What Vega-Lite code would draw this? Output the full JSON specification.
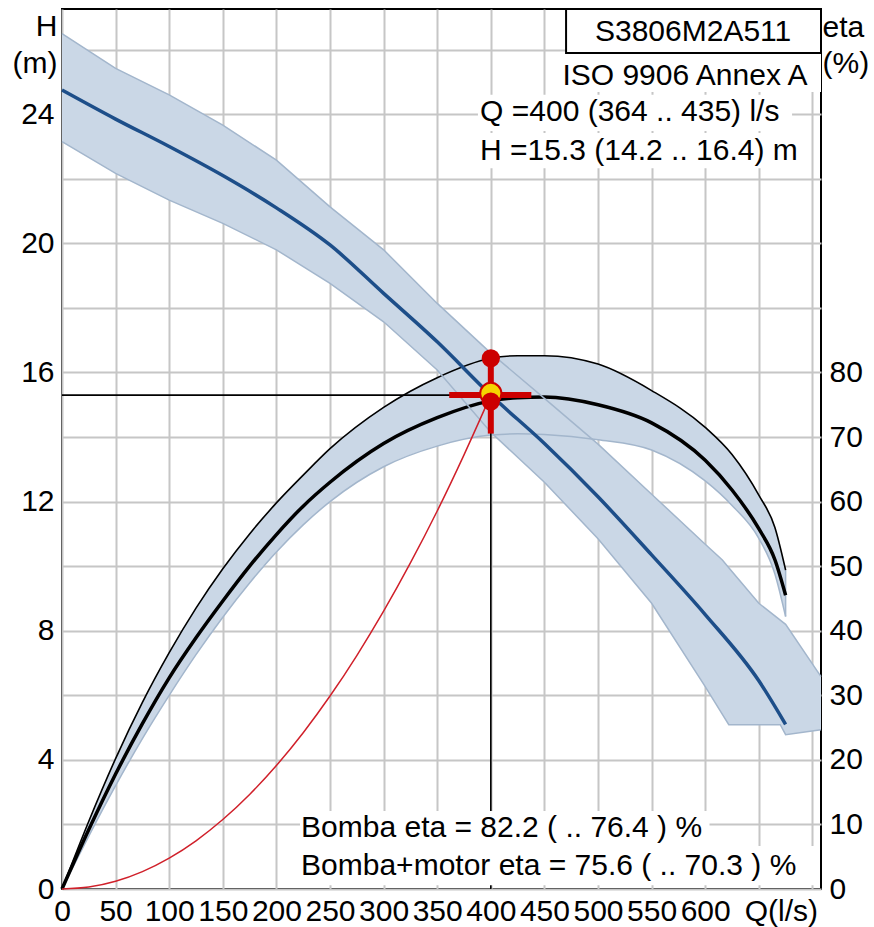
{
  "$schema": "https://vega.github.io/schema/vega-lite/v6.json",
  "width": 759,
  "height": 880,
  "autosize": {"type": "none"},
  "padding": {"left": 62, "top": 9, "right": 53, "bottom": 38},
  "background": "white",
  "config": {
    "view": {"stroke": "#000000", "strokeWidth": 2},
    "font": "Liberation Sans",
    "axis": {
      "labelFont": "Liberation Sans", "labelFontSize": 30, "labelColor": "#000000",
      "titleFont": "Liberation Sans", "titleFontSize": 30, "titleFontWeight": "normal", "titleColor": "#000000",
      "domain": false, "ticks": false, "tickSize": 0,
      "gridColor": "#c6c6c6", "gridWidth": 2, "gridOpacity": 1
    }
  },
  "datasets": {
    "hband": [
      {"Q": 0, "lo": 23.15, "hi": 26.5},
      {"Q": 50, "lo": 22.17, "hi": 25.42},
      {"Q": 100, "lo": 21.34, "hi": 24.6},
      {"Q": 150, "lo": 20.62, "hi": 23.66},
      {"Q": 200, "lo": 19.8, "hi": 22.58},
      {"Q": 250, "lo": 18.76, "hi": 21.13},
      {"Q": 300, "lo": 17.57, "hi": 19.8},
      {"Q": 350, "lo": 16.08, "hi": 18.14},
      {"Q": 400, "lo": 14.15, "hi": 16.6},
      {"Q": 450, "lo": 12.6, "hi": 15.2},
      {"Q": 500, "lo": 10.85, "hi": 13.78},
      {"Q": 550, "lo": 8.85, "hi": 12.23},
      {"Q": 600, "lo": 6.27, "hi": 10.68},
      {"Q": 616, "lo": 5.41, "hi": 10.19},
      {"Q": 622, "lo": 5.09, "hi": 9.95},
      {"Q": 650, "lo": 5.09, "hi": 8.85},
      {"Q": 670, "lo": 5.09, "hi": 8.33},
      {"Q": 675, "lo": 4.78, "hi": 8.2},
      {"Q": 708, "lo": 4.93, "hi": 6.58}
    ],
    "hline": [
      {"Q": 0, "H": 24.75}, {"Q": 50, "H": 23.85}, {"Q": 100, "H": 23.0},
      {"Q": 150, "H": 22.1}, {"Q": 200, "H": 21.1}, {"Q": 250, "H": 19.95},
      {"Q": 300, "H": 18.45}, {"Q": 350, "H": 16.95}, {"Q": 400, "H": 15.3},
      {"Q": 450, "H": 13.8}, {"Q": 500, "H": 12.15}, {"Q": 550, "H": 10.35},
      {"Q": 600, "H": 8.5}, {"Q": 650, "H": 6.45}, {"Q": 675, "H": 5.1}
    ],
    "eband": [
      {"Q": 0, "pump": 0, "pm": 0, "lo": 0},
      {"Q": 25, "pump": 10.5, "pm": 9.2, "lo": 8.2},
      {"Q": 50, "pump": 20.2, "pm": 17.8, "lo": 16.0},
      {"Q": 75, "pump": 28.9, "pm": 25.6, "lo": 23.3},
      {"Q": 100, "pump": 36.6, "pm": 32.7, "lo": 30.0},
      {"Q": 125, "pump": 43.5, "pm": 38.9, "lo": 36.3},
      {"Q": 150, "pump": 49.6, "pm": 44.6, "lo": 42.1},
      {"Q": 175, "pump": 55.0, "pm": 50.0, "lo": 47.4},
      {"Q": 200, "pump": 59.8, "pm": 54.9, "lo": 52.2},
      {"Q": 225, "pump": 64.1, "pm": 59.3, "lo": 56.4},
      {"Q": 250, "pump": 68.2, "pm": 63.0, "lo": 60.0},
      {"Q": 300, "pump": 74.6, "pm": 69.0, "lo": 65.4},
      {"Q": 350, "pump": 79.2, "pm": 73.0, "lo": 68.6},
      {"Q": 400, "pump": 82.2, "pm": 75.6, "lo": 70.3},
      {"Q": 425, "pump": 82.6, "pm": 76.1, "lo": 70.5},
      {"Q": 450, "pump": 82.6, "pm": 76.2, "lo": 70.4},
      {"Q": 500, "pump": 81.3, "pm": 75.0, "lo": 69.6},
      {"Q": 550, "pump": 77.2, "pm": 72.2, "lo": 68.0},
      {"Q": 600, "pump": 71.5, "pm": 66.4, "lo": 63.2},
      {"Q": 625, "pump": 67.3, "pm": 61.8, "lo": 59.4},
      {"Q": 650, "pump": 61.0, "pm": 55.8, "lo": 54.3},
      {"Q": 665, "pump": 56.0, "pm": 51.0, "lo": 48.8},
      {"Q": 675, "pump": 49.4, "pm": 45.5, "lo": 42.2}
    ],
    "sys": [
      {"Q": 0, "H": 0}, {"Q": 25, "H": 0.06}, {"Q": 50, "H": 0.239}, {"Q": 75, "H": 0.538},
      {"Q": 100, "H": 0.956}, {"Q": 125, "H": 1.494}, {"Q": 150, "H": 2.152}, {"Q": 175, "H": 2.928},
      {"Q": 200, "H": 3.825}, {"Q": 225, "H": 4.841}, {"Q": 250, "H": 5.977}, {"Q": 275, "H": 7.232},
      {"Q": 300, "H": 8.606}, {"Q": 325, "H": 10.1}, {"Q": 350, "H": 11.71}, {"Q": 375, "H": 13.45},
      {"Q": 400, "H": 15.3}
    ]
  },
  "encoding": {
    "x": {
      "field": "Q", "type": "quantitative",
      "scale": {"domain": [0, 708], "nice": false, "zero": false},
      "axis": {
        "values": [0, 50, 100, 150, 200, 250, 300, 350, 400, 450, 500, 550, 600, 650, 700],
        "grid": true, "title": null, "labelPadding": 7,
        "labelOverlap": false, "labelFlush": false, "labelBound": false,
        "labelExpr": "datum.value == 650 ? 'Q(l/s)' : (datum.value == 700 ? '' : datum.label)",
        "labelOffset": {"condition": {"test": "datum.value == 650", "value": 22}, "value": 0}
      }
    }
  },
  "resolve": {"scale": {"y": "independent"}},
  "layer": [
    {
      "data": {"name": "hband"},
      "mark": {"type": "area", "color": "#cad7e6", "opacity": 1},
      "encoding": {
        "y": {
          "field": "lo", "type": "quantitative",
          "scale": {"domain": [0, 27.26], "nice": false, "zero": false},
          "axis": {
            "orient": "left",
            "values": [0, 2, 4, 6, 8, 10, 12, 14, 16, 18, 20, 22, 24, 26],
            "grid": true, "labelPadding": 8,
            "labelExpr": "datum.value % 4 == 0 ? datum.label : ''",
            "title": ["H", "(m)"], "titleAngle": 0, "titleAlign": "right", "titleBaseline": "alphabetic",
            "titleX": -5, "titleY": 26, "titleLineHeight": 37
          }
        },
        "y2": {"field": "hi"}
      }
    },
    {
      "data": {"name": "eband"},
      "mark": {"type": "area", "color": "#cad7e6", "opacity": 1, "interpolate": "monotone"},
      "encoding": {
        "y": {
          "field": "lo", "type": "quantitative",
          "scale": {"domain": [0, 136.3], "nice": false, "zero": false},
          "axis": {
            "orient": "right",
            "values": [0, 10, 20, 30, 40, 50, 60, 70, 80],
            "grid": false, "labelPadding": 8,
            "title": ["eta", "(%)"], "titleAngle": 0, "titleAlign": "left", "titleBaseline": "alphabetic",
            "titleX": 1, "titleY": 27, "titleLineHeight": 36
          }
        },
        "y2": {"field": "pump"}
      }
    },
    {
      "layer": [
        {
          "data": {"name": "eband"},
          "mark": {"type": "line", "color": "#a3b6cc", "strokeWidth": 1.5, "interpolate": "monotone"},
          "encoding": {"y": {"field": "lo", "type": "quantitative", "scale": {"domain": [0, 136.3], "nice": false, "zero": false}, "axis": null}}
        },
        {
          "data": {"values": [{"Q": 675, "lo": 42.2, "hi": 49.4}]},
          "mark": {"type": "rule", "color": "#a3b6cc", "strokeWidth": 1.5},
          "encoding": {"y": {"field": "lo", "type": "quantitative", "scale": {"domain": [0, 136.3], "nice": false, "zero": false}, "axis": null}, "y2": {"field": "hi"}}
        },
        {
          "data": {"name": "eband"},
          "mark": {"type": "line", "color": "#000000", "strokeWidth": 3.5, "interpolate": "monotone"},
          "encoding": {"y": {"field": "pm", "type": "quantitative", "scale": {"domain": [0, 136.3], "nice": false, "zero": false}, "axis": null}}
        },
        {
          "data": {"name": "eband"},
          "mark": {"type": "line", "color": "#000000", "strokeWidth": 1.6, "interpolate": "monotone"},
          "encoding": {"y": {"field": "pump", "type": "quantitative", "scale": {"domain": [0, 136.3], "nice": false, "zero": false}, "axis": null}}
        }
      ]
    },
    {
      "layer": [
        {
          "data": {"name": "hband"},
          "mark": {"type": "line", "color": "#a3b6cc", "strokeWidth": 1.5},
          "encoding": {"y": {"field": "lo", "type": "quantitative", "scale": {"domain": [0, 27.26], "nice": false, "zero": false}, "axis": null}}
        },
        {
          "data": {"name": "hband"},
          "mark": {"type": "line", "color": "#a3b6cc", "strokeWidth": 1.5},
          "encoding": {"y": {"field": "hi", "type": "quantitative", "scale": {"domain": [0, 27.26], "nice": false, "zero": false}, "axis": null}}
        },
        {
          "data": {"name": "hline"},
          "mark": {"type": "line", "color": "#1d4e89", "strokeWidth": 3.5, "interpolate": "monotone"},
          "encoding": {"y": {"field": "H", "type": "quantitative", "scale": {"domain": [0, 27.26], "nice": false, "zero": false}, "axis": null}}
        },
        {
          "data": {"name": "sys"},
          "mark": {"type": "line", "color": "#d0202a", "strokeWidth": 1.5, "interpolate": "monotone"},
          "encoding": {"y": {"field": "H", "type": "quantitative", "scale": {"domain": [0, 27.26], "nice": false, "zero": false}, "axis": null}}
        },
        {
          "data": {"values": [{"Q": 0, "Q2": 400, "H": 15.3}]},
          "mark": {"type": "rule", "color": "#000000", "strokeWidth": 1.6},
          "encoding": {"x2": {"field": "Q2"}, "y": {"field": "H", "type": "quantitative", "scale": {"domain": [0, 27.26], "nice": false, "zero": false}, "axis": null}}
        },
        {
          "data": {"values": [{"Q": 400, "H": 0, "H2": 15.3}]},
          "mark": {"type": "rule", "color": "#000000", "strokeWidth": 1.6},
          "encoding": {"y": {"field": "H", "type": "quantitative", "scale": {"domain": [0, 27.26], "nice": false, "zero": false}, "axis": null}, "y2": {"field": "H2"}}
        },
        {
          "data": {"values": [
            {"Q": 458, "Q2": 708, "H": 24.69, "H2": 25.9},
            {"Q": 388, "Q2": 681, "H": 23.48, "H2": 24.6},
            {"Q": 388, "Q2": 692, "H": 22.33, "H2": 23.42},
            {"Q": 222, "Q2": 604, "H": 1.33, "H2": 2.42},
            {"Q": 222, "Q2": 703, "H": 0.12, "H2": 1.33}
          ]},
          "mark": {"type": "rect", "fill": "#ffffff", "strokeWidth": 0},
          "encoding": {"x2": {"field": "Q2"}, "y": {"field": "H", "type": "quantitative", "scale": {"domain": [0, 27.26], "nice": false, "zero": false}, "axis": null}, "y2": {"field": "H2"}}
        },
        {
          "data": {"values": [{"Q": 470.2, "Q2": 708, "H": 25.9, "H2": 27.26}]},
          "mark": {"type": "rect", "fill": "#ffffff", "stroke": "#000000", "strokeWidth": 2},
          "encoding": {"x2": {"field": "Q2"}, "y": {"field": "H", "type": "quantitative", "scale": {"domain": [0, 27.26], "nice": false, "zero": false}, "axis": null}, "y2": {"field": "H2"}}
        },
        {
          "data": {"values": [{"Q": 588.7, "H": 26.28, "label": "S3806M2A511"}]},
          "mark": {"type": "text", "font": "Liberation Sans", "fontSize": 30, "align": "center", "baseline": "alphabetic", "color": "#000000"},
          "encoding": {"y": {"field": "H", "type": "quantitative", "scale": {"domain": [0, 27.26], "nice": false, "zero": false}, "axis": null}, "text": {"field": "label"}}
        },
        {
          "data": {"values": [{"Q": 695.5, "H": 24.91, "label": "ISO 9906 Annex A"}]},
          "mark": {"type": "text", "font": "Liberation Sans", "fontSize": 30, "align": "right", "baseline": "alphabetic", "color": "#000000"},
          "encoding": {"y": {"field": "H", "type": "quantitative", "scale": {"domain": [0, 27.26], "nice": false, "zero": false}, "axis": null}, "text": {"field": "label"}}
        },
        {
          "data": {"values": [
            {"Q": 390, "H": 23.8, "label": "Q =400 (364 .. 435) l/s"},
            {"Q": 390, "H": 22.58, "label": "H =15.3 (14.2 .. 16.4) m"},
            {"Q": 223, "H": 1.6, "label": "Bomba eta = 82.2 ( .. 76.4 ) %"},
            {"Q": 223, "H": 0.434, "label": "Bomba+motor eta = 75.6 ( .. 70.3 ) %"}
          ]},
          "mark": {"type": "text", "font": "Liberation Sans", "fontSize": 30, "align": "left", "baseline": "alphabetic", "color": "#000000"},
          "encoding": {"y": {"field": "H", "type": "quantitative", "scale": {"domain": [0, 27.26], "nice": false, "zero": false}, "axis": null}, "text": {"field": "label"}}
        },
        {
          "data": {"values": [{"Q": 364, "Q2": 435, "H": 15.3}]},
          "mark": {"type": "rule", "color": "#cc0000", "strokeWidth": 6, "strokeCap": "square"},
          "encoding": {"x2": {"field": "Q2"}, "y": {"field": "H", "type": "quantitative", "scale": {"domain": [0, 27.26], "nice": false, "zero": false}, "axis": null}}
        },
        {
          "data": {"values": [{"Q": 400, "H": 14.2, "H2": 16.4}]},
          "mark": {"type": "rule", "color": "#cc0000", "strokeWidth": 6, "strokeCap": "square"},
          "encoding": {"y": {"field": "H", "type": "quantitative", "scale": {"domain": [0, 27.26], "nice": false, "zero": false}, "axis": null}, "y2": {"field": "H2"}}
        },
        {
          "data": {"values": [{"Q": 400, "H": 15.35}]},
          "mark": {"type": "point", "shape": "circle", "filled": true, "fill": "#f5d400", "stroke": "#cc0000", "strokeWidth": 2, "size": 450, "opacity": 1},
          "encoding": {"y": {"field": "H", "type": "quantitative", "scale": {"domain": [0, 27.26], "nice": false, "zero": false}, "axis": null}}
        },
        {
          "data": {"values": [{"Q": 400, "H": 16.44}, {"Q": 400, "H": 15.1}]},
          "mark": {"type": "circle", "color": "#cc0000", "size": 330, "opacity": 1},
          "encoding": {"y": {"field": "H", "type": "quantitative", "scale": {"domain": [0, 27.26], "nice": false, "zero": false}, "axis": null}}
        }
      ]
    }
  ]
}
